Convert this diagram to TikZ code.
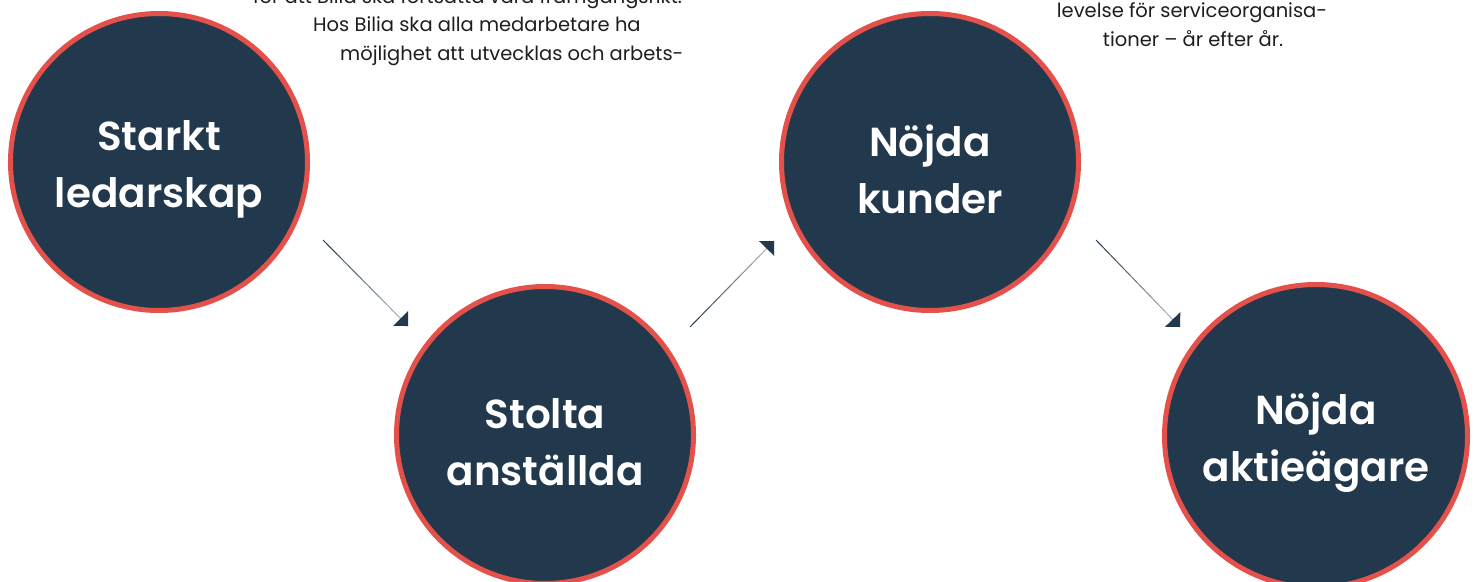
\documentclass[tikz,border=0pt]{standalone}
\usepackage{fontspec}
\setmainfont{Poppins}
\newfontfamily\medfont{Poppins SemiBold}
\usetikzlibrary{arrows.meta,calc}
\definecolor{navy}{HTML}{22384C}
\definecolor{ring}{HTML}{E4504A}
\definecolor{ink}{HTML}{1E1E1E}
\definecolor{lightline}{HTML}{C9D0D6}
\tikzset{
  bubble/.style={circle, draw=ring, line width=5pt, fill=navy, minimum size=297pt, inner sep=0pt},
  bigbubble/.style={bubble, minimum size=303pt},
  bubbletext/.style={text=white, align=center, inner sep=0pt, yshift=-7pt,
    font=\fontsize{40.5}{57}\selectfont\medfont},
  body/.style={text=ink, font=\fontsize{19.5}{29}\selectfont, inner sep=0pt},
  tip/.style={-{Triangle[length=10.5pt,width=21pt]}, draw=navy, line width=1pt}
}
\newcommand{\gradarrow}[2]{%
  \foreach \i in {0,...,11}{%
    \pgfmathsetmacro{\pa}{\i/12}\pgfmathsetmacro{\pb}{(\i+1)/12}\pgfmathsetmacro{\mix}{100-\i*8}%
    \draw[navy!\mix!lightline, line width=1pt] ($(#1)!\pa!(#2)$) -- ($(#1)!\pb!(#2)$);}%
  \draw[tip] ($(#1)!0.92!(#2)$) -- (#2);}
\begin{document}
\begin{tikzpicture}[x=1pt,y=-1pt]
\useasboundingbox (0,0) rectangle (1477,581);
\fill[white] (0,0) rectangle (1477,581);
\begin{scope}
\clip (0,0) rectangle (1477,581);
\node[bubble] (c1) at (159,162) {};
\node[bubble] (c2) at (545,435) {};
\node[bubble] (c3) at (930,162) {};
\node[bigbubble] (c4) at (1316,436) {};
\node[bubbletext] (l1) at (c1) {Starkt\\ledarskap};
\node[bubbletext] (l2) at (c2) {Stolta\\anställda};
\node[bubbletext] (l3) at (c3) {Nöjda\\kunder};
\node[bubbletext] (l4) at (c4) {Nöjda\\aktieägare};
\node[body, anchor=base west] (t1) at (253,3) {för att Bilia ska fortsätta vara framgångsrikt.};
\node[body, anchor=base west] (t2) at (313,31) {Hos Bilia ska alla medarbetare ha};
\node[body, anchor=base west] (t3) at (340,60) {möjlighet att utvecklas och arbets-};
\node[body, anchor=base] (t4) at (1192,17) {levelse för serviceorganisa-};
\node[body, anchor=base] (t5) at (1193,46) {tioner – år efter år.};
\end{scope}
\coordinate (a1s) at (323,240);
\coordinate (a1e) at (408,326);
\coordinate (a2s) at (690,327);
\coordinate (a2e) at (774,241);
\coordinate (a3s) at (1096,240);
\coordinate (a3e) at (1180,327);
\gradarrow{a1s}{a1e}
\gradarrow{a2s}{a2e}
\gradarrow{a3s}{a3e}
\end{tikzpicture}
\end{document}
